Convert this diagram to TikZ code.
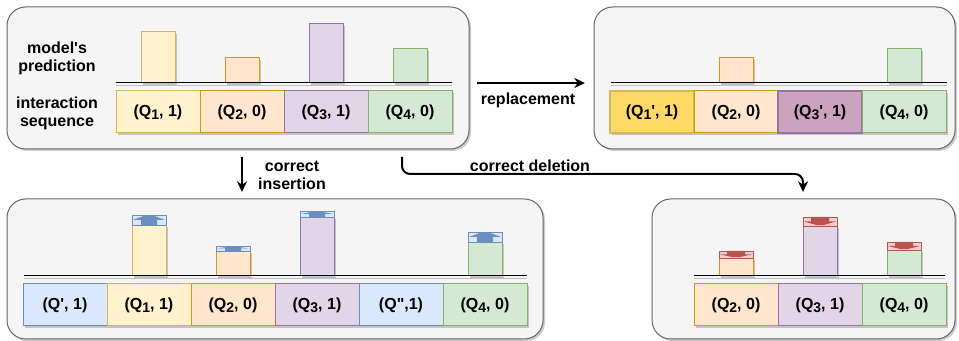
\documentclass[tikz,border=0pt]{standalone}
\usepackage{fontspec}
\setmainfont{Liberation Sans}
\usetikzlibrary{arrows.meta}
\definecolor{panelF}{HTML}{F5F5F5}
\definecolor{panelD}{HTML}{666666}
\definecolor{yelF}{HTML}{FFF2CC}
\definecolor{yelD}{HTML}{D6B656}
\definecolor{orgF}{HTML}{FFE6CC}
\definecolor{orgD}{HTML}{D79B00}
\definecolor{purF}{HTML}{E1D5E7}
\definecolor{purD}{HTML}{9673A6}
\definecolor{grnF}{HTML}{D5E8D4}
\definecolor{grnD}{HTML}{82B366}
\definecolor{bluF}{HTML}{DAE8FC}
\definecolor{bluD}{HTML}{6C8EBF}
\definecolor{redF}{HTML}{F8CECC}
\definecolor{redD}{HTML}{B85450}
\definecolor{gldF}{HTML}{FFD966}
\definecolor{pnkF}{HTML}{CDA2BE}
\def\cw{84}
\def\bw{17}
\newcommand\qsub[1]{\raisebox{-0.35ex}{\fontsize{10.5}{10.5}\selectfont#1}}
\tikzset{castshadow/.style={preaction={fill=black, opacity=0.2, transform canvas={shift={(1.5pt,-1.5pt)}}}}}
\tikzset{panel/.style={draw=panelD, fill=panelF, line width=0.75pt, rounded corners=14pt, castshadow}}
\tikzset{cell/.style={draw=#1D, fill=#1F, line width=0.75pt, minimum width=63pt, minimum height=31.5pt, inner sep=0pt, castshadow}}
\tikzset{bar/.style={draw=#1D, fill=#1F, line width=0.75pt, castshadow}}
\tikzset{base/.style={line width=0.75pt, black, preaction={draw=black!25, transform canvas={shift={(0pt,-1.5pt)}}}}}
\tikzset{flow/.style={line width=1.5pt, -{Stealth[length=8pt, width=7.5pt, inset=2.5pt]}}}
\tikzset{every node/.style={font=\bfseries\fontsize{12}{13.5}\selectfont, align=center}}
% cap on top of a bar: x centre, bottom, height
\newcommand\upcap[3]{%
  \draw[fill=bluF, draw=bluD, line width=0.6pt] ({#1-\bw},#2) rectangle ({#1+\bw},{#2-#3});
  \fill[bluD] ({#1-8},#2) -- ({#1-8},{#2-0.5*#3}) -- ({#1-16},{#2-0.5*#3}) -- ({#1-5},{#2-#3+0.8})
    -- ({#1+5},{#2-#3+0.8}) -- ({#1+16},{#2-0.5*#3}) -- ({#1+8},{#2-0.5*#3}) -- ({#1+8},#2) -- cycle;}
\newcommand\downcap[3]{%
  \draw[fill=redF, draw=redD, line width=0.6pt] ({#1-\bw},#2) rectangle ({#1+\bw},{#2-#3});
  \fill[redD] ({#1-9},{#2-#3}) -- ({#1-9},{#2-0.5*#3}) -- ({#1-16},{#2-0.5*#3}) -- ({#1-3},{#2-0.8})
    -- ({#1+3},{#2-0.8}) -- ({#1+16},{#2-0.5*#3}) -- ({#1+9},{#2-0.5*#3}) -- ({#1+9},{#2-#3}) -- cycle;}

\begin{document}
\begin{tikzpicture}[x=0.75pt, y=-0.75pt]
\useasboundingbox (0,0) rectangle (959,341);
% panels
\draw[panel] (7,7) rectangle (469,149);
\draw[panel] (594,7) rectangle (955,149);
\draw[panel] (7,199) rectangle (543,339);
\draw[panel] (652,199) rectangle (955,339);

% original sequence
\node (pred) at (57,58) {model\textquotesingle s\\prediction};
\node (seq) at (57,113) {interaction\\sequence};
\draw[bar=yel] ({158-\bw},83) rectangle ++(34,-51);
\draw[bar=org] ({242-\bw},83) rectangle ++(34,-25);
\draw[bar=pur] ({326-\bw},83) rectangle ++(34,-59);
\draw[bar=grn] ({410-\bw},83) rectangle ++(34,-34);
\draw[base] (116,83) -- (452,83);
\foreach \txt/\col [count=\i] in {{(Q\qsub{1}, 1)}/yel, {(Q\qsub{2}, 0)}/org, {(Q\qsub{3}, 1)}/pur, {(Q\qsub{4}, 0)}/grn}
  \node[cell=\col] (a\i) at ({74+\cw*\i},112) {\txt};

% replacement
\draw[bar=org] ({736-\bw},83) rectangle ++(34,-25);
\draw[bar=grn] ({904-\bw},83) rectangle ++(34,-34);
\draw[base] (611,83) -- (947,83);
\node[cell=yel, fill=gldF, line width=1.5pt] (b1) at (652,112) {(Q\qsub{1}\textquotesingle, 1)};
\node[cell=org] (b2) at (736,112) {(Q\qsub{2}, 0)};
\node[cell=pur, fill=pnkF, line width=1.5pt] (b3) at (820,112) {(Q\qsub{3}\textquotesingle, 1)};
\node[cell=grn] (b4) at (904,112) {(Q\qsub{4}, 0)};

% correct insertion
\draw[bar=yel] ({149-\bw},276) rectangle ++(34,-51);
\draw[bar=org] ({233-\bw},276) rectangle ++(34,-25);
\draw[bar=pur] ({317-\bw},276) rectangle ++(34,-59);
\draw[bar=grn] ({485-\bw},276) rectangle ++(34,-34);
\upcap{149}{225}{10}
\upcap{233}{251}{5}
\upcap{317}{217}{6}
\upcap{485}{242}{10}
\draw[base] (24,276) -- (527,276);
\foreach \txt/\col [count=\i] in {{(Q\textquotesingle, 1)}/blu, {(Q\qsub{1}, 1)}/yel, {(Q\qsub{2}, 0)}/org, {(Q\qsub{3}, 1)}/pur, {(Q\textquotedbl,1)}/blu, {(Q\qsub{4}, 0)}/grn}
  \node[cell=\col] (c\i) at ({-19+\cw*\i},305) {\txt};

% correct deletion
\draw[bar=org] ({736-\bw},276) rectangle ++(34,-18);
\draw[bar=pur] ({820-\bw},276) rectangle ++(34,-50);
\draw[bar=grn] ({904-\bw},276) rectangle ++(34,-26);
\downcap{736}{258}{7}
\downcap{820}{226}{9}
\downcap{904}{250}{8}
\draw[base] (694,276) -- (945,276);
\foreach \txt/\col [count=\i] in {{(Q\qsub{2}, 0)}/org, {(Q\qsub{3}, 1)}/pur, {(Q\qsub{4}, 0)}/grn}
  \node[cell=\col] (d\i) at ({652+\cw*\i},305) {\txt};

% connectors
\coordinate (rep-s) at (477,83);
\coordinate (rep-e) at (585,83);
\coordinate (ins-s) at (242,157);
\coordinate (ins-e) at (242,192);
\coordinate (del-s) at (402,157);
\coordinate (del-e) at (803,192);
\draw[flow] (rep-s) -- (rep-e);
\node (replbl) at (528,100) {replacement};
\draw[flow] (ins-s) -- (ins-e);
\node (inslbl) at (292,175) {correct\\insertion};
\draw[flow, rounded corners=6pt] (del-s) |- (530,174) -| (del-e);
\node (dellbl) at (530,166) {correct deletion};
\end{tikzpicture}
\end{document}
